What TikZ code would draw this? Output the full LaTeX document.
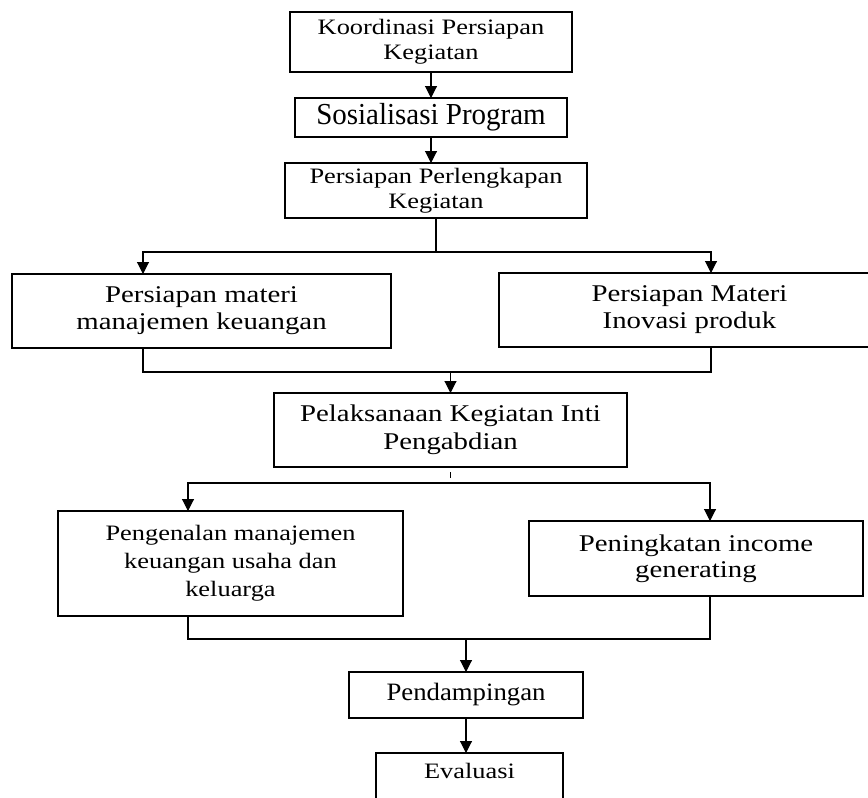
\documentclass[tikz,border=0pt]{standalone}
\usepackage{fontspec}
\setmainfont{Liberation Serif}
\newfontfamily\hurufA[FakeStretch=1.2]{Liberation Serif}
\newfontfamily\hurufB[FakeStretch=1.2]{Liberation Serif}
\newfontfamily\hurufC[FakeStretch=0.95]{Liberation Serif}
\newfontfamily\hurufD[FakeStretch=1.07]{Liberation Serif}
\usetikzlibrary{arrows.meta}
\tikzset{
  every picture/.style={x=1pt, y=-1pt, line width=1.1pt, line join=miter,
    >={Triangle[length=12pt,width=12pt]}},
  % Kotak
  kotak/.style={draw, line width=1.4pt, align=center, inner sep=0pt, outer sep=0pt},
  % Huruf
  tulisA/.style={font={\hurufA\fontsize{22}{#1}\selectfont}},
  tulisA/.default=25,
  tulisB/.style 2 args={font={\hurufB\fontsize{#1}{#2}\selectfont}},
  tulisC/.style={font={\hurufC\fontsize{30.5}{35}\selectfont}},
  tulisD/.style={font={\hurufD\fontsize{25}{28}\selectfont}},
  % Garis penghubung
  alur/.style={line width=1.1pt},
}

\begin{document}
\begin{tikzpicture}
  \useasboundingbox (0,0) rectangle (868,798);
  % Tahap persiapan
  \node[kotak, tulisA, minimum width=282pt, minimum height=60pt] (koor) at (431,42)
    {Koordinasi Persiapan\\Kegiatan};
  \node[kotak, tulisC, minimum width=272pt, minimum height=39pt] (sos) at (431,117.5)
    {Sosialisasi Program};
  \node[kotak, tulisA, minimum width=302pt, minimum height=55pt] (perl) at (436,190.5)
    {Persiapan Perlengkapan\\Kegiatan};
  \draw[alur, ->] (koor.south) -- (koor.south |- sos.north);
  \draw[alur, ->] (sos.south) -- (sos.south |- perl.north);
  % Materi
  \node[kotak, tulisB={24}{27}, minimum width=379pt, minimum height=74pt] (matkeu) at (201.5,311)
    {Persiapan materi\\manajemen keuangan};
  \node[kotak, tulisB={24}{27}, minimum width=381pt, minimum height=74pt] (matino) at (689.5,310)
    {Persiapan Materi\\Inovasi produk};
  \coordinate (c1l) at (143,252);
  \coordinate (c1r) at (711,252);
  \draw[alur] (perl.south) -- (perl.south |- c1l);
  \draw[alur, <->] (c1l |- matkeu.north) -- (c1l) -- (c1r) -- (c1r |- matino.north);
  % Kegiatan inti
  \node[kotak, tulisB={24}{28}, minimum width=353pt, minimum height=74pt] (inti) at (450.5,430)
    {Pelaksanaan Kegiatan Inti\\Pengabdian};
  \coordinate (g1l) at (143,372);
  \coordinate (g1r) at (711,372);
  \draw[alur] (g1l |- matkeu.south) -- (g1l) -- (g1r) -- (g1r |- matino.south);
  \draw[alur, ->] (inti.north |- g1l) -- (inti.north);
  % Pengenalan dan income generating
  \node[kotak, tulisA=28, minimum width=345pt, minimum height=105pt] (kenal) at (230.5,563.5)
    {Pengenalan manajemen\\keuangan usaha dan\\keluarga};
  \node[kotak, tulisB={24}{26}, minimum width=334pt, minimum height=75pt] (income) at (696,558.5)
    {Peningkatan income\\generating};
  \coordinate (c2l) at (188,483);
  \coordinate (c2r) at (710,483);
  \draw[alur, shorten <=5pt, shorten >=5pt] (inti.south) -- (inti.south |- c2l);
  \draw[alur, <->] (c2l |- kenal.north) -- (c2l) -- (c2r) -- (c2r |- income.north);
  % Pendampingan, evaluasi
  \node[kotak, tulisD, minimum width=234pt, minimum height=46pt] (damping) at (466,695)
    {Pendampingan};
  \node[kotak, tulisB={22}{27}, minimum width=187pt, inner ysep=10pt, anchor=north] (eval) at (469.5,753)
    {Evaluasi\\\strut};
  \coordinate (g2l) at (188,639);
  \coordinate (g2r) at (710,639);
  \draw[alur] (g2l |- kenal.south) -- (g2l) -- (g2r) -- (g2r |- income.south);
  \draw[alur, ->] (damping.north |- g2l) -- (damping.north);
  \draw[alur, ->] (damping.south) -- (damping.south |- eval.north);
\end{tikzpicture}
\end{document}
